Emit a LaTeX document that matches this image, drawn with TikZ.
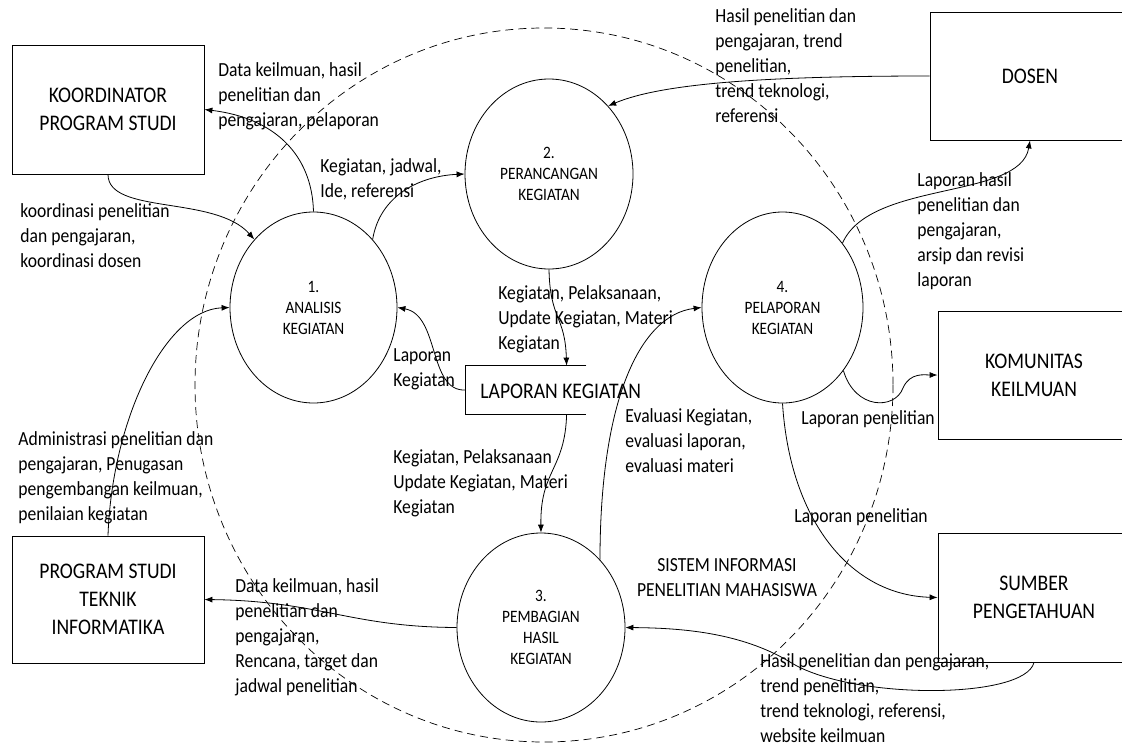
\documentclass[tikz,border=0pt]{standalone}
\usepackage{fontspec}
\setmainfont{Carlito}[FakeStretch=0.88]
\usetikzlibrary{shapes.geometric,arrows.meta}
\newcommand\lblfont{\fontsize{20}{25}\selectfont}
\newcommand\boxfont{\fontsize{22.3}{28}\selectfont}
\newcommand\cirfont{\fontsize{17.4}{21}\selectfont}
\begin{document}
\begin{tikzpicture}[x=1pt,y=-1pt,
  line width=0.8pt,
  proc/.style={draw, ellipse, inner sep=0pt, align=center, font=\cirfont},
  entity/.style={draw, rectangle, inner sep=0pt, align=center, font=\boxfont},
  lbl/.style={inner sep=0pt, align=left, anchor=north west, font=\lblfont},
  flow/.style={-{Latex[length=8pt,width=6pt]}},
  boundary/.style={dash pattern=on 8pt off 5pt, line width=0.7pt}]
\clip (0,0) rectangle (1122,747);
% system boundary
\draw[boundary] (544,385) ellipse [x radius=349, y radius=357];
% processes
\node[proc, minimum width=167pt, minimum height=191pt] (c1) at (313.5,307.5) {1.\\ANALISIS\\KEGIATAN};
\node[proc, minimum width=168pt, minimum height=190pt] (c2) at (549,174) {2.\\PERANCANGAN\\KEGIATAN};
\node[proc, minimum width=168pt, minimum height=189pt] (c3) at (541,627.5) {3.\\PEMBAGIAN\\HASIL\\KEGIATAN};
\node[proc, minimum width=161pt, minimum height=191pt] (c4) at (782.5,307.5) {4.\\PELAPORAN\\KEGIATAN};
% external entities
\node[entity, minimum width=192pt, minimum height=129pt] (k) at (108,109.5) {KOORDINATOR\\PROGRAM STUDI};
\node[entity, minimum width=192pt, minimum height=127pt] (ps) at (108,599.5) {PROGRAM STUDI\\TEKNIK\\INFORMATIKA};
\node[entity, minimum width=200pt, minimum height=128pt] (d) at (1030,76) {DOSEN};
\node[entity, minimum width=192pt, minimum height=128pt] (km) at (1034,375) {KOMUNITAS\\KEILMUAN};
\node[entity, minimum width=192pt, minimum height=129pt] (sb) at (1034,597.5) {SUMBER\\PENGETAHUAN};
% data store
\node[rectangle, minimum width=120pt, minimum height=48pt, inner sep=0pt] (ds) at (526,390) {};
\draw (ds.north east) -- (ds.north west) -- (ds.south west) -- (ds.south east);
\node[inner sep=0pt, anchor=west, font=\boxfont] (dstxt) at (480,391) {LAPORAN KEGIATAN};
% flows
\draw[flow] (c1.90) .. controls (312,155) and (275,118) .. (k.east);
\draw[flow] (k.south) .. controls (108,215) and (215,195) .. (c1.131);
\draw[flow] (c1.49.5) .. controls (380,195) and (420,176) .. (c2.west);
\draw[flow] (d.west) .. controls (760,76) and (660,84) .. (c2.49);
\draw[flow] (c2.south) .. controls (550,320) and (565,315) .. (ds.31.6);
\draw[flow] (ds.west) .. controls (428,392) and (440,315) .. (c1.east);
\draw[flow] (ds.-31.6) .. controls (565,470) and (540,470) .. (c3.north);
\draw[flow] (c3.west) .. controls (350,627) and (320,601) .. (ps.east);
\draw[flow] (ps.north) .. controls (112,420) and (165,310) .. (c1.west);
\draw[flow] (c3.49.3) .. controls (600,400) and (640,315) .. (c4.west);
\draw[flow] (c4.47.6) .. controls (870,180) and (1020,200) .. (d.south);
\draw[flow] (c4.-46.7) .. controls (855,410) and (895,410) .. (903,388) .. controls (910,372) and (925,375) .. (km.west);
\draw[flow] (c4.south) .. controls (790,520) and (850,595) .. (sb.west);
\draw[flow] (sb.south) .. controls (1025,700) and (850,700) .. (790,662) .. controls (740,632) and (680,628) .. (c3.east);
% labels
\node[lbl] (l1) at (218,62) {Data keilmuan, hasil\\penelitian dan\\pengajaran, pelaporan};
\node[lbl] (l2) at (20,203) {koordinasi penelitian\\dan pengajaran,\\koordinasi dosen};
\node[lbl] (l3) at (320,158) {Kegiatan, jadwal,\\Ide, referensi};
\node[lbl] (l4) at (715,8) {Hasil penelitian dan\\pengajaran, trend\\penelitian,\\trend teknologi,\\referensi};
\node[lbl] (l5) at (498,285) {Kegiatan, Pelaksanaan,\\Update Kegiatan, Materi\\Kegiatan};
\node[lbl] (l6) at (393,348) {Laporan\\Kegiatan};
\node[lbl] (l7) at (393,449) {Kegiatan, Pelaksanaan\\Update Kegiatan, Materi\\Kegiatan};
\node[lbl] (l8) at (235,578) {Data keilmuan, hasil\\penelitian dan\\pengajaran,\\Rencana, target dan\\jadwal penelitian};
\node[lbl] (l9) at (18,431) {Administrasi penelitian dan\\pengajaran, Penugasan\\pengembangan keilmuan,\\penilaian kegiatan};
\node[lbl] (l10) at (625,408) {Evaluasi Kegiatan,\\evaluasi laporan,\\evaluasi materi};
\node[lbl] (l11) at (917,172) {Laporan hasil\\penelitian dan\\pengajaran,\\arsip dan revisi\\laporan};
\node[lbl] (l12) at (801,410) {Laporan penelitian};
\node[lbl] (l13) at (794,508) {Laporan penelitian};
\node[lbl] (l14) at (760,653) {Hasil penelitian dan pengajaran,\\trend penelitian,\\trend teknologi, referensi,\\website keilmuan};
\node[lbl, anchor=north, align=center] (sys) at (727,558) {SISTEM INFORMASI\\PENELITIAN MAHASISWA};
\end{tikzpicture}
\end{document}
